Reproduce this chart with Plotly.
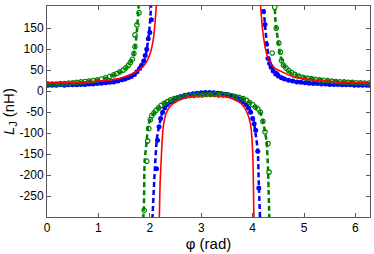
import plotly.graph_objects as go

# ---------------- data ----------------
# red solid theory curve, three branches
red_phi_a = [0, 0.5, 1.0, 1.3, 1.5, 1.7, 1.85, 1.95, 2.02, 2.07, 2.10, 2.13]
red_L_a = [20, 21, 24, 28, 34, 44, 56, 73, 95, 125, 160, 210]
red_phi_b = [2.185, 2.20, 2.23, 2.26, 2.32, 2.42, 2.58, 2.74, 2.95, 3.12, 3.3, 3.48, 3.64, 3.78, 3.89, 3.96, 4.00, 4.025]
red_L_b = [-305, -220, -142, -87, -52, -33, -21, -14, -11, -10.5, -11, -13, -20, -30, -50, -80, -142, -305]
red_phi_c = [4.15, 4.20, 4.27, 4.33, 4.43, 4.59, 4.79, 5.1, 5.44, 5.9, 6.29]
red_L_c = [210, 140, 90, 70, 55, 45, 34, 28, 24, 21, 20]

# blue dashed fit
bfit_phi_a = [0, 0.5, 1.0, 1.3, 1.5, 1.65, 1.78, 1.87, 1.92, 1.96, 1.99, 2.01, 2.03]
bfit_L_a = [14, 15, 18, 22, 28, 35, 50, 62, 85, 115, 145, 175, 215]
bfit_phi_b = [2.05, 2.10, 2.14, 2.20, 2.26, 2.39, 2.59, 2.75, 2.95, 3.1, 3.3, 3.5, 3.65, 3.82, 3.94, 4.01, 4.06, 4.10, 4.12, 4.145]
bfit_L_b = [-305, -181, -111, -72, -44, -29, -17, -8, -4, -3, -3, -5, -10, -21, -41, -64, -103, -142, -220, -305]
bfit_phi_c = [4.21, 4.23, 4.25, 4.28, 4.31, 4.37, 4.47, 4.66, 5.1, 5.76, 6.29]
bfit_L_c = [215, 174, 145, 110, 82, 62, 45, 28, 20, 16, 14]

# green dashed fit
gfit_phi_a = [0, 0.5, 0.83, 1.1, 1.35, 1.52, 1.62, 1.68, 1.72, 1.75, 1.77, 1.79]
gfit_L_a = [17, 20, 24, 30, 41, 52, 68, 85, 110, 145, 180, 215]
gfit_phi_b = [1.87, 1.885, 1.90, 1.94, 1.97, 2.06, 2.16, 2.33, 2.52, 2.75, 3.1, 3.55, 3.82, 4.01, 4.14, 4.20, 4.27, 4.30, 4.325]
gfit_L_b = [-305, -275, -166, -119, -80, -56, -41, -25, -17, -10, -7, -7, -17, -33, -48, -72, -119, -189, -305]
gfit_phi_c = [4.43, 4.44, 4.46, 4.50, 4.53, 4.59, 4.72, 4.98, 5.44, 6.29]
gfit_L_c = [215, 174, 151, 114, 92, 65, 45, 34, 26, 19]

# blue measured points (filled dots)
bdat_phi = [0.02, 0.1, 0.18, 0.26, 0.34, 0.42, 0.5, 0.58, 0.66, 0.74, 0.82, 0.9, 0.98, 1.06, 1.14,
            1.22, 1.3, 1.38, 1.46, 1.52, 1.58, 1.64, 1.7, 1.75, 1.8, 1.84, 1.88, 1.91, 1.94, 1.97, 2.0, 2.03,
            2.13, 2.15, 2.18, 2.21, 2.25, 2.29, 2.34, 2.40, 2.46, 2.52, 2.6, 2.68, 2.76, 2.84, 2.92, 3.0,
            3.08, 3.16, 3.24, 3.32, 3.4, 3.48, 3.56, 3.64, 3.7, 3.76, 3.82, 3.87, 3.92, 3.96, 4.0, 4.03,
            4.06, 4.10, 4.12,
            4.21, 4.24, 4.27, 4.30, 4.33, 4.36, 4.40, 4.45, 4.5, 4.56, 4.62, 4.7, 4.78, 4.86, 4.94, 5.02,
            5.1, 5.18, 5.26, 5.34, 5.42, 5.5, 5.58, 5.66, 5.74, 5.82, 5.9, 5.98, 6.06, 6.14, 6.22, 6.28]
bdat_L = [14, 14, 14, 15, 14, 15, 15, 15, 16, 16, 17, 17, 18, 19, 20,
          21, 22, 24, 27, 29, 32, 35, 40, 46, 54, 62, 72, 85, 100, 125, 140, 170,
          -185, -117, -85, -65, -50, -40, -32, -26, -21, -17, -13, -10, -8, -6, -5, -4,
          -3, -3, -4, -5, -6, -8, -10, -13, -16, -20, -25, -32, -40, -50, -65, -78,
          -93, -143, -231,
          190, 159, 112, 78, 66, 57, 48, 41, 36, 32, 29, 26, 24, 22, 21, 20,
          19, 18, 18, 17, 17, 16, 16, 16, 15, 15, 15, 14, 14, 14, 14, 14]

# green measured points (open circles)
gdat_phi = [0.02, 0.1, 0.18, 0.26, 0.34, 0.42, 0.5, 0.58, 0.66, 0.74, 0.82, 0.9, 0.98, 1.06, 1.14,
            1.22, 1.3, 1.36, 1.42, 1.48, 1.53, 1.58, 1.62, 1.66, 1.69, 1.71, 1.71, 1.75, 1.79,
            1.89, 1.94, 1.96, 1.98, 2.01, 2.04, 2.08, 2.12, 2.17, 2.22, 2.28, 2.34, 2.4, 2.47, 2.54,
            2.62, 2.7, 2.78, 2.86, 2.94, 3.02, 3.1, 3.18, 3.26, 3.34, 3.42, 3.5, 3.58, 3.66, 3.74,
            3.82, 3.88, 3.94, 4.0, 4.05, 4.1, 4.15, 4.2, 4.24, 4.3, 4.32,
            4.38, 4.43, 4.46, 4.51, 4.54, 4.56, 4.6, 4.65, 4.7, 4.76, 4.82, 4.9, 4.98, 5.06, 5.14,
            5.22, 5.3, 5.38, 5.46, 5.54, 5.62, 5.7, 5.78, 5.86, 5.94, 6.02, 6.1, 6.18, 6.26]
gdat_L = [17, 17, 17, 18, 18, 19, 20, 21, 22, 23, 24, 25, 27, 29, 32,
          35, 39, 42, 46, 50, 55, 61, 68, 76, 90, 106, 134, 158, 187,
          -284, -167, -119, -89, -68, -58, -52, -46, -40, -34, -29, -25, -21, -18, -16,
          -14, -12, -11, -10, -9, -9, -8, -8, -8, -9, -9, -10, -11, -13, -15,
          -18, -22, -27, -32, -38, -42, -50, -72, -97, -125, -193,
          91, 200, 150, 115, 93, 73, 62, 55, 49, 44, 40, 36, 33, 31, 30,
          28, 27, 26, 25, 24, 23, 22, 22, 21, 21, 20, 20, 19, 19]

x_ticks = [0, 1, 2, 3, 4, 5, 6]
y_ticks = [-250, -200, -150, -100, -50, 0, 50, 100, 150]


def join(*parts):
    out = []
    for i, p in enumerate(parts):
        if i:
            out.append(None)
        out.extend(p)
    return out


BLUE = "#0000ff"
GREEN = "#008000"
RED = "#ff0000"

fig = go.Figure()

fig.add_trace(go.Scatter(x=bdat_phi, y=bdat_L, mode="markers",
                         marker=dict(color=BLUE, size=5, symbol="circle", line=dict(width=0))))
fig.add_trace(go.Scatter(x=join(bfit_phi_a, bfit_phi_b, bfit_phi_c), y=join(bfit_L_a, bfit_L_b, bfit_L_c),
                         mode="lines", line=dict(color=BLUE, width=2.5, dash="5px,3px", shape="spline", smoothing=0.6),
                         connectgaps=False))
fig.add_trace(go.Scatter(x=gdat_phi, y=gdat_L, mode="markers",
                         marker=dict(color=GREEN, size=4.5, symbol="circle-open", line=dict(width=1.2, color=GREEN))))
fig.add_trace(go.Scatter(x=join(gfit_phi_a, gfit_phi_b, gfit_phi_c), y=join(gfit_L_a, gfit_L_b, gfit_L_c),
                         mode="lines", line=dict(color=GREEN, width=2.5, dash="5px,3px", shape="spline", smoothing=0.6),
                         connectgaps=False))
fig.add_trace(go.Scatter(x=join(red_phi_a, red_phi_b, red_phi_c), y=join(red_L_a, red_L_b, red_L_c),
                         mode="lines", line=dict(color=RED, width=1.6, shape="spline", smoothing=0.6),
                         connectgaps=False))

axis_common = dict(showgrid=False, zeroline=False, showline=True, linecolor="#5a5a5a", linewidth=1,
                   mirror="ticks", ticks="inside", ticklen=4, tickcolor="#5a5a5a",
                   tickfont=dict(family="Liberation Sans, Arial, sans-serif", size=12, color="#000"))

fig.update_layout(
    width=374, height=254,
    margin=dict(l=47, r=4, t=6, b=37),
    paper_bgcolor="white", plot_bgcolor="white",
    showlegend=False,
    xaxis=dict(range=[0, 6.2832], tickvals=x_ticks, ticktext=[str(v) for v in x_ticks],
               title=dict(text="φ (rad)", standoff=3,
                          font=dict(family="Liberation Sans, Arial, sans-serif", size=15, color="#000")),
               **axis_common),
    yaxis=dict(range=[-300, 203], tickvals=y_ticks, ticktext=[str(v) for v in y_ticks],
               title=dict(text="<i>L</i><sub>J</sub> (nH)", standoff=1,
                          font=dict(family="Liberation Sans, Arial, sans-serif", size=15, color="#000")),
               **axis_common),
)

fig.write_html("out.html", config={"displayModeBar": False},
               post_script="document.body.style.margin='0';document.body.style.overflow='hidden';")
